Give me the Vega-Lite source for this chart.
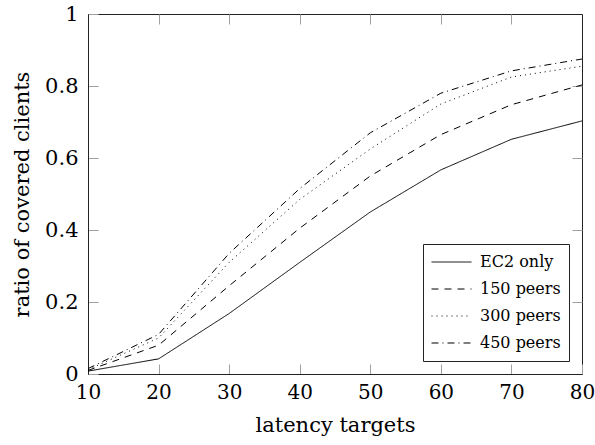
{
  "$schema": "https://vega.github.io/schema/vega-lite/v6.json",
  "autosize": "none",
  "width": 494,
  "height": 360,
  "padding": {"left": 88, "top": 14, "right": 13, "bottom": 71},
  "background": "white",
  "config": {
    "font": "DejaVu Serif",
    "view": {"stroke": "#222", "strokeWidth": 1},
    "axis": {"grid": false, "domainColor": "#222", "tickColor": "#a0a0a0", "tickSize": -10, "tickWidth": 1, "labelFont": "DejaVu Serif", "titleFont": "DejaVu Serif", "labelColor": "black", "titleColor": "black", "titleFontWeight": "normal"},
    "legend": {"labelFont": "DejaVu Serif"}
  },
  "data": {"values": [
    {"latency": 10, "ratio": 0.008, "series": "EC2 only"},
    {"latency": 20, "ratio": 0.042, "series": "EC2 only"},
    {"latency": 30, "ratio": 0.168, "series": "EC2 only"},
    {"latency": 40, "ratio": 0.31, "series": "EC2 only"},
    {"latency": 50, "ratio": 0.45, "series": "EC2 only"},
    {"latency": 60, "ratio": 0.567, "series": "EC2 only"},
    {"latency": 70, "ratio": 0.652, "series": "EC2 only"},
    {"latency": 80, "ratio": 0.703, "series": "EC2 only"},
    {"latency": 10, "ratio": 0.01, "series": "150 peers"},
    {"latency": 20, "ratio": 0.08, "series": "150 peers"},
    {"latency": 30, "ratio": 0.245, "series": "150 peers"},
    {"latency": 40, "ratio": 0.405, "series": "150 peers"},
    {"latency": 50, "ratio": 0.55, "series": "150 peers"},
    {"latency": 60, "ratio": 0.665, "series": "150 peers"},
    {"latency": 70, "ratio": 0.748, "series": "150 peers"},
    {"latency": 80, "ratio": 0.803, "series": "150 peers"},
    {"latency": 10, "ratio": 0.012, "series": "300 peers"},
    {"latency": 20, "ratio": 0.1, "series": "300 peers"},
    {"latency": 30, "ratio": 0.31, "series": "300 peers"},
    {"latency": 40, "ratio": 0.485, "series": "300 peers"},
    {"latency": 50, "ratio": 0.625, "series": "300 peers"},
    {"latency": 60, "ratio": 0.75, "series": "300 peers"},
    {"latency": 70, "ratio": 0.825, "series": "300 peers"},
    {"latency": 80, "ratio": 0.855, "series": "300 peers"},
    {"latency": 10, "ratio": 0.015, "series": "450 peers"},
    {"latency": 20, "ratio": 0.11, "series": "450 peers"},
    {"latency": 30, "ratio": 0.335, "series": "450 peers"},
    {"latency": 40, "ratio": 0.515, "series": "450 peers"},
    {"latency": 50, "ratio": 0.67, "series": "450 peers"},
    {"latency": 60, "ratio": 0.78, "series": "450 peers"},
    {"latency": 70, "ratio": 0.842, "series": "450 peers"},
    {"latency": 80, "ratio": 0.875, "series": "450 peers"}
  ]},
  "layer": [
    {
      "mark": {"type": "line", "color": "black", "strokeWidth": 1},
      "encoding": {
        "x": {"field": "latency", "type": "quantitative", "scale": {"domain": [10, 80], "nice": false, "zero": false},
          "axis": {"orient": "bottom", "values": [10, 20, 30, 40, 50, 60, 70, 80], "title": "latency targets", "labelFontSize": 20, "titleFontSize": 21, "labelPadding": 18, "titlePadding": 12, "labelFlush": false}},
        "y": {"field": "ratio", "type": "quantitative", "scale": {"domain": [0, 1], "nice": false},
          "axis": {"orient": "left", "values": [0, 0.2, 0.4, 0.6, 0.8, 1], "format": "~g", "title": "ratio of covered clients", "labelFontSize": 21, "titleFontSize": 21, "labelPadding": 20, "titlePadding": 12, "labelFlush": false}},
        "strokeDash": {"field": "series", "type": "nominal",
          "scale": {"domain": ["EC2 only", "150 peers", "300 peers", "450 peers"], "range": [[1, 0], [7, 6], [1, 4], [7, 4, 1, 4]]},
          "legend": {"title": null, "orient": "bottom-right", "offset": 13, "symbolType": "stroke", "symbolSize": 1600, "clipHeight": 20, "symbolStrokeColor": "black", "symbolStrokeWidth": 1, "labelFontSize": 16, "labelColor": "black", "strokeColor": "#222", "fillColor": "white", "padding": 8, "rowPadding": 7, "labelOffset": 8}}
      }
    },
    {
      "mark": {"type": "point", "opacity": 0},
      "encoding": {
        "x": {"field": "latency", "type": "quantitative", "axis": {"orient": "top", "values": [20, 30, 40, 50, 60, 70], "labels": false, "title": null, "domain": false}},
        "y": {"field": "ratio", "type": "quantitative", "axis": {"orient": "right", "values": [0.2, 0.4, 0.6, 0.8], "labels": false, "title": null, "domain": false}}
      }
    }
  ],
  "resolve": {"axis": {"x": "independent", "y": "independent"}}
}
